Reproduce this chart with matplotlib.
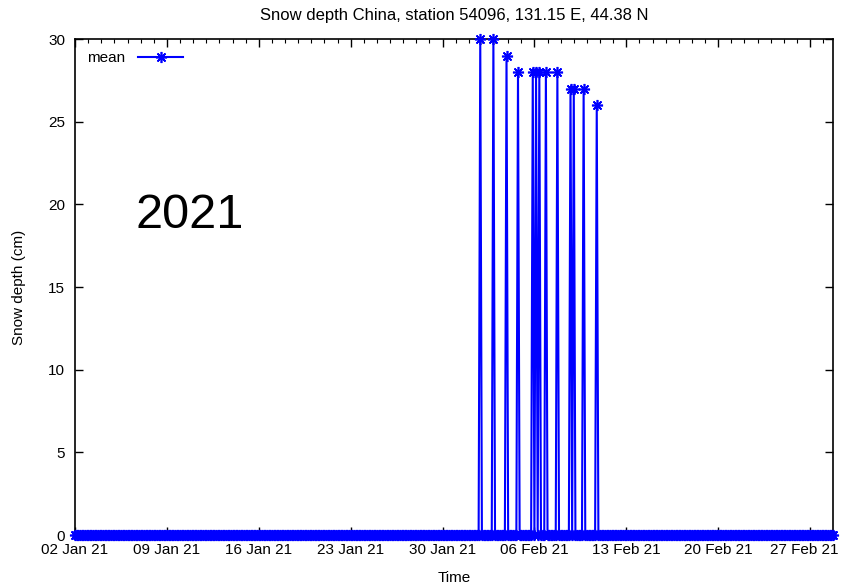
import matplotlib
matplotlib.use("Agg")
import matplotlib.pyplot as plt
import matplotlib.dates as mdates
import matplotlib.transforms as mtransforms
import pandas as pd

plt.rcParams['font.family'] = ['Liberation Sans', 'DejaVu Sans']

# 3-hourly record, snow depth is 0 cm except at the spikes below
t_start = "2021-01-02 00:00"
t_end = "2021-02-28 18:00"
step = "3h"

spike_times = ["2021-02-01 21:00", "2021-02-02 21:00", "2021-02-03 21:00",
               "2021-02-04 18:00", "2021-02-05 21:00", "2021-02-06 03:00",
               "2021-02-06 09:00", "2021-02-06 21:00", "2021-02-07 18:00",
               "2021-02-08 18:00", "2021-02-09 00:00", "2021-02-09 18:00",
               "2021-02-10 18:00"]
spike_depth = [30, 30, 29, 28, 28, 28, 28, 28, 28, 27, 27, 27, 26]

tick_dates = ["2021-01-02", "2021-01-09", "2021-01-16", "2021-01-23", "2021-01-30",
              "2021-02-06", "2021-02-13", "2021-02-20", "2021-02-27"]

times = pd.date_range(t_start, t_end, freq=step)
depth = pd.Series(0.0, index=times)
depth[pd.to_datetime(spike_times)] = spike_depth

fig = plt.figure(figsize=(8.41, 5.86), dpi=100)
ax = fig.add_axes([0.0892, 0.087, 0.9013, 0.8464])

ax.plot(depth.index, depth.values, color='#0000ff', lw=1.5,
        marker=(8, 2, 0), markersize=8, markeredgewidth=1.2, label='mean',
        clip_on=False, zorder=3)

ax.set_xlim(times[0], times[-1])
ax.set_ylim(0, 30)
ax.set_yticks(range(0, 31, 5))
ax.set_xticks(pd.to_datetime(tick_dates))
ax.xaxis.set_major_formatter(mdates.DateFormatter('%d %b %y'))
ax.xaxis.set_minor_locator(mdates.DayLocator())

ax.tick_params(which='both', direction='in', top=True, right=True, labelsize=11)
ax.tick_params(which='major', length=6, width=1)
ax.tick_params(which='minor', length=3, width=0.8)
ax.tick_params(axis='x', pad=6)
ax.tick_params(axis='y', pad=7)
for s in ax.spines.values():
    s.set_linewidth(1.2)

# nudge the last date label so it stays inside the figure
last = ax.get_xticklabels()[-1]
last.set_transform(last.get_transform() + mtransforms.ScaledTranslation(-4 / 72, 0, fig.dpi_scale_trans))

ax.set_xlabel('Time', fontsize=11, labelpad=10)
ax.set_ylabel('Snow depth (cm)', fontsize=11, labelpad=16)
ax.set_title('Snow depth China, station 54096, 131.15 E, 44.38 N', fontsize=12, pad=14)

ax.text(0.08, 0.62, '2021', transform=ax.transAxes, fontsize=35)

ax.legend(loc='upper left', markerfirst=False, frameon=False, fontsize=11,
          handlelength=3, borderaxespad=0.4)

fig.savefig('out.png', dpi=100)
